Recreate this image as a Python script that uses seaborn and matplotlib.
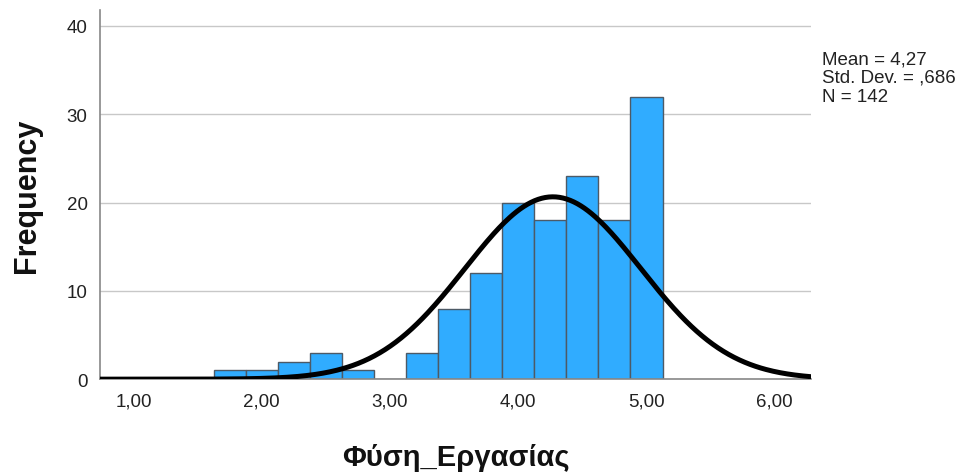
import numpy as np
import pandas as pd
import matplotlib
matplotlib.use("Agg")
import matplotlib.pyplot as plt
from matplotlib.ticker import FuncFormatter
import seaborn as sns

# Data
bin_centers = [1.75, 2.00, 2.25, 2.50, 2.75, 3.00, 3.25, 3.50, 3.75, 4.00, 4.25, 4.50, 4.75, 5.00]
counts      = [1,    1,    2,    3,    1,    0,    3,    8,    12,   20,   18,   23,   18,   32]
bin_width = 0.25
mean_val = 4.27
sd_val = 0.686
n_val = 142
x_ticks = [1, 2, 3, 4, 5, 6]
y_ticks = [0, 10, 20, 30, 40]
x_label = "Φύση_Εργασίας"
y_label = "Frequency"
stats_text = "Mean = 4,27\nStd. Dev. = ,686\nN = 142"

sns.set_theme(style="white")
plt.rcParams['font.family'] = ['Liberation Sans', 'DejaVu Sans']

fig = plt.figure(figsize=(9.72, 4.77), dpi=100)
ax = fig.add_axes([0.103, 0.203, 0.731, 0.774])

df = pd.DataFrame({"x": bin_centers, "w": counts})
lo = bin_centers[0] - bin_width / 2
hi = bin_centers[-1] + bin_width / 2
sns.histplot(data=df, x="x", weights="w", binwidth=bin_width, binrange=(lo, hi), ax=ax,
             color="#30acff", alpha=1.0, edgecolor="#4d5a66", linewidth=1.0, zorder=2)

xs = np.linspace(0.74, 6.28, 400)
ys = n_val * bin_width * np.exp(-0.5 * ((xs - mean_val) / sd_val) ** 2) / (sd_val * np.sqrt(2 * np.pi))
sns.lineplot(x=xs, y=ys, ax=ax, color="black", linewidth=3.6, zorder=3)

ax.set_xlim(0.74, 6.28)
ax.set_ylim(0, 41.8)
ax.set_xticks(x_ticks)
ax.set_yticks(y_ticks)
ax.xaxis.set_major_formatter(FuncFormatter(lambda v, p: f"{v:.2f}".replace(".", ",")))
ax.tick_params(axis="both", length=0, labelsize=13.5, colors="#222222")
ax.tick_params(axis="x", pad=9.5)
ax.tick_params(axis="y", pad=9)

ax.yaxis.grid(True, color="#c8c8c8", linewidth=1.0, zorder=0)
ax.set_axisbelow(True)
for s in ["top", "right"]:
    ax.spines[s].set_visible(False)
for s in ["left", "bottom"]:
    ax.spines[s].set_color("#888888")
    ax.spines[s].set_linewidth(1.2)

ax.set_xlabel(x_label, fontsize=21, fontweight="bold", color="#111111")
ax.set_ylabel(y_label, fontsize=22, fontweight="bold", color="#111111")
ax.xaxis.label.set_va("center")
ax.yaxis.label.set_va("center")
ax.xaxis.set_label_coords(0.5, -0.212)
ax.yaxis.set_label_coords(-0.103, 0.5)

fig.text(0.846, 0.893, stats_text, fontsize=13.5, va="top", ha="left", color="#222222", linespacing=1.15)

fig.savefig("out.png", dpi=100)
